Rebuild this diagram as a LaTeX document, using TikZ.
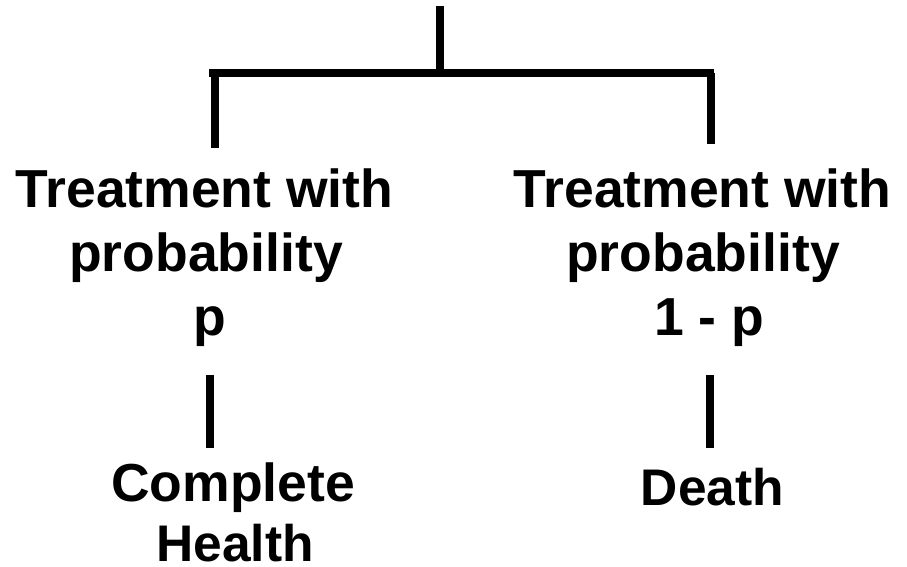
\documentclass[tikz,border=0pt]{standalone}
\usepackage{fontspec}
\setmainfont{Liberation Sans}
\begin{document}
\begin{tikzpicture}[x=1pt,y=-1pt,
  branch/.style={line width=7.5pt,line cap=butt},
  lbl/.style={inner sep=0pt,anchor=base,font=\fontsize{53.5}{60}\selectfont\bfseries},
  lblsmall/.style={lbl,font=\fontsize{51.5}{60}\selectfont\bfseries}]
\useasboundingbox (0,0) rectangle (907,567);
% tree skeleton
\coordinate (root) at (440,6);
\coordinate (hub) at (440,73);
\coordinate (barL) at (209,73);
\coordinate (barR) at (714,73);
\coordinate (topL) at (215,73);
\coordinate (topR) at (711,73);
\coordinate (endL) at (215,148);
\coordinate (endR) at (711,144);
% left branch labels
\node[lbl] (l1) at (204.5,207) {Treatment with};
\node[lbl] (l2) at (206,271) {probability};
\node[lbl] (l3) at (210,335) {p};
% right branch labels
\node[lbl] (r1) at (702.5,207) {Treatment with};
\node[lbl] (r2) at (703,271) {probability};
\node[lbl] (r3) at (709,335) {1 - p};
% outcomes
\node[lbl] (o1) at (233,501) {Complete};
\node[lblsmall] (o2) at (235,561) {Health};
\node[lblsmall] (o3) at (712.5,505) {Death};
\coordinate (sL1) at (210,375);
\coordinate (sL2) at (210,448);
\coordinate (sR1) at (710,375);
\coordinate (sR2) at (710,448);
\draw[branch] (root) -- (hub);
\draw[branch] (barL) -- (barR);
\draw[branch] (topL) -- (endL);
\draw[branch] (topR) -- (endR);
\draw[branch] (sL1) -- (sL2);
\draw[branch] (sR1) -- (sR2);
\end{tikzpicture}
\end{document}
